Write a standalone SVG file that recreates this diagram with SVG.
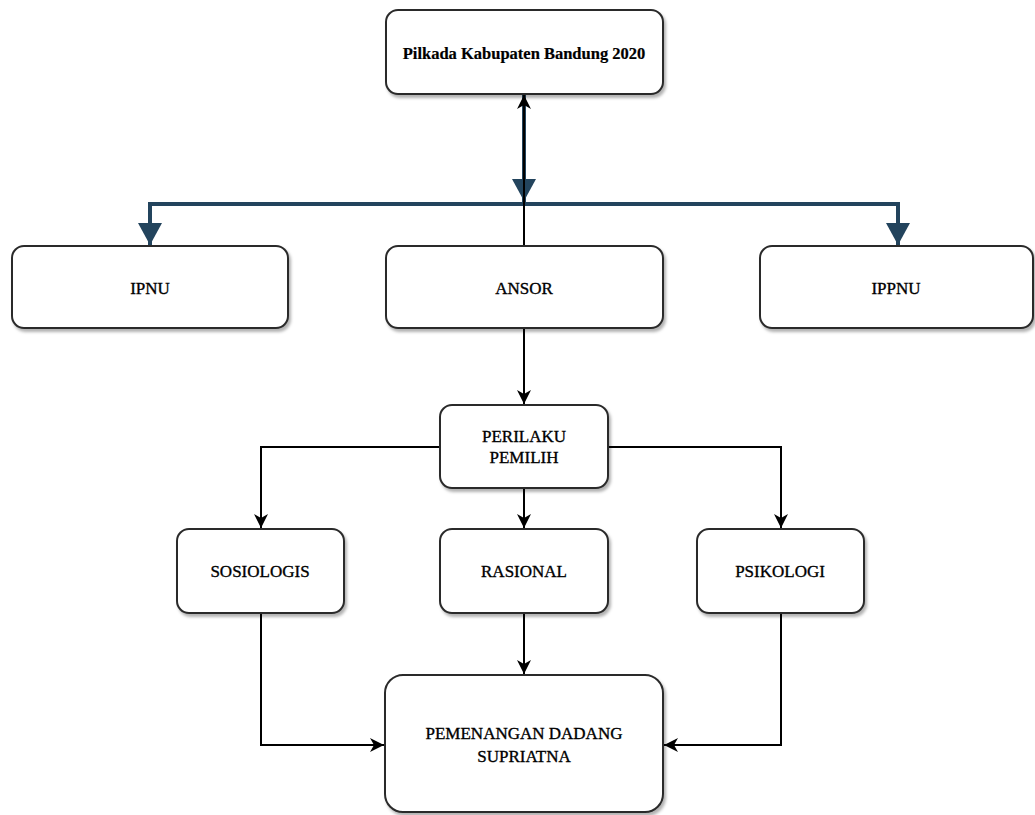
<svg xmlns="http://www.w3.org/2000/svg" width="1035" height="815" viewBox="0 0 1035 815">
<style>
.box{fill:#fff;stroke:#2b2b2b;stroke-width:2;filter:url(#sh)}
.lbl{font-family:"Liberation Serif","Times New Roman",serif;font-size:17px;fill:#000;stroke:#000;stroke-width:0.35;text-anchor:middle}
.b{font-weight:bold;font-size:16.5px;stroke-width:0.2}
.k{fill:none;stroke:#000;stroke-width:2}
.bl{fill:none;stroke:#23445D;stroke-width:4}
</style>
<defs>
<filter id="sh" x="-10%" y="-10%" width="130%" height="140%">
<feDropShadow dx="2" dy="3" stdDeviation="1.5" flood-color="#000" flood-opacity="0.3"/>
</filter>
<marker id="ak" markerUnits="userSpaceOnUse" markerWidth="16" markerHeight="16" refX="14" refY="7" orient="auto">
<path d="M0,0 L14,7 L0,14 L4,7 Z" fill="#000"/>
</marker>
<marker id="ab" markerUnits="userSpaceOnUse" markerWidth="24" markerHeight="26" refX="22" refY="12" orient="auto">
<path d="M0,0 L22,12 L0,24 Z" fill="#23445D"/>
</marker>
</defs>
<g id="connectors">
<path class="bl" d="M524,95 L524,204 L150,204 L150,245" marker-end="url(#ab)"/>
<path class="bl" d="M524,95 L524,204 L898,204 L898,245" marker-end="url(#ab)"/>
<path class="bl" d="M524,95 L524,201" marker-end="url(#ab)"/>
<path class="k" d="M524,245 L524,95" marker-end="url(#ak)"/>
<path class="k" d="M524,328 L524,404" marker-end="url(#ak)"/>
<path class="k" d="M440,447 L261,447 L261,528" marker-end="url(#ak)"/>
<path class="k" d="M608,447 L781,447 L781,528" marker-end="url(#ak)"/>
<path class="k" d="M524,488 L524,528" marker-end="url(#ak)"/>
<path class="k" d="M261,613 L261,745 L384,745" marker-end="url(#ak)"/>
<path class="k" d="M781,613 L781,745 L664,745" marker-end="url(#ak)"/>
<path class="k" d="M524,613 L524,674" marker-end="url(#ak)"/>
</g>
<g id="pilkada"><rect class="box" x="386" y="10" width="277" height="84" rx="12"/><text class="lbl b" x="524" y="59">Pilkada Kabupaten Bandung 2020</text></g>
<g id="ipnu"><rect class="box" x="12" y="246" width="276" height="82" rx="12"/><text class="lbl" x="150" y="294">IPNU</text></g>
<g id="ansor"><rect class="box" x="386" y="246" width="277" height="82" rx="12"/><text class="lbl" x="524" y="294">ANSOR</text></g>
<g id="ippnu"><rect class="box" x="760" y="246" width="273" height="82" rx="12"/><text class="lbl" x="896" y="294">IPPNU</text></g>
<g id="perilaku"><rect class="box" x="440" y="405" width="168" height="83" rx="12"/><text class="lbl" x="524" y="442">PERILAKU</text><text class="lbl" x="524" y="463">PEMILIH</text></g>
<g id="sosiologis"><rect class="box" x="177" y="529" width="167" height="84" rx="12"/><text class="lbl" x="260" y="577">SOSIOLOGIS</text></g>
<g id="rasional"><rect class="box" x="440" y="529" width="168" height="84" rx="12"/><text class="lbl" x="524" y="577">RASIONAL</text></g>
<g id="psikologi"><rect class="box" x="697" y="529" width="167" height="84" rx="12"/><text class="lbl" x="780" y="577">PSIKOLOGI</text></g>
<g id="pemenangan"><rect class="box" x="385" y="675" width="278" height="137" rx="18"/><text class="lbl" x="524" y="739">PEMENANGAN DADANG</text><text class="lbl" x="524" y="762">SUPRIATNA</text></g>
</svg>
